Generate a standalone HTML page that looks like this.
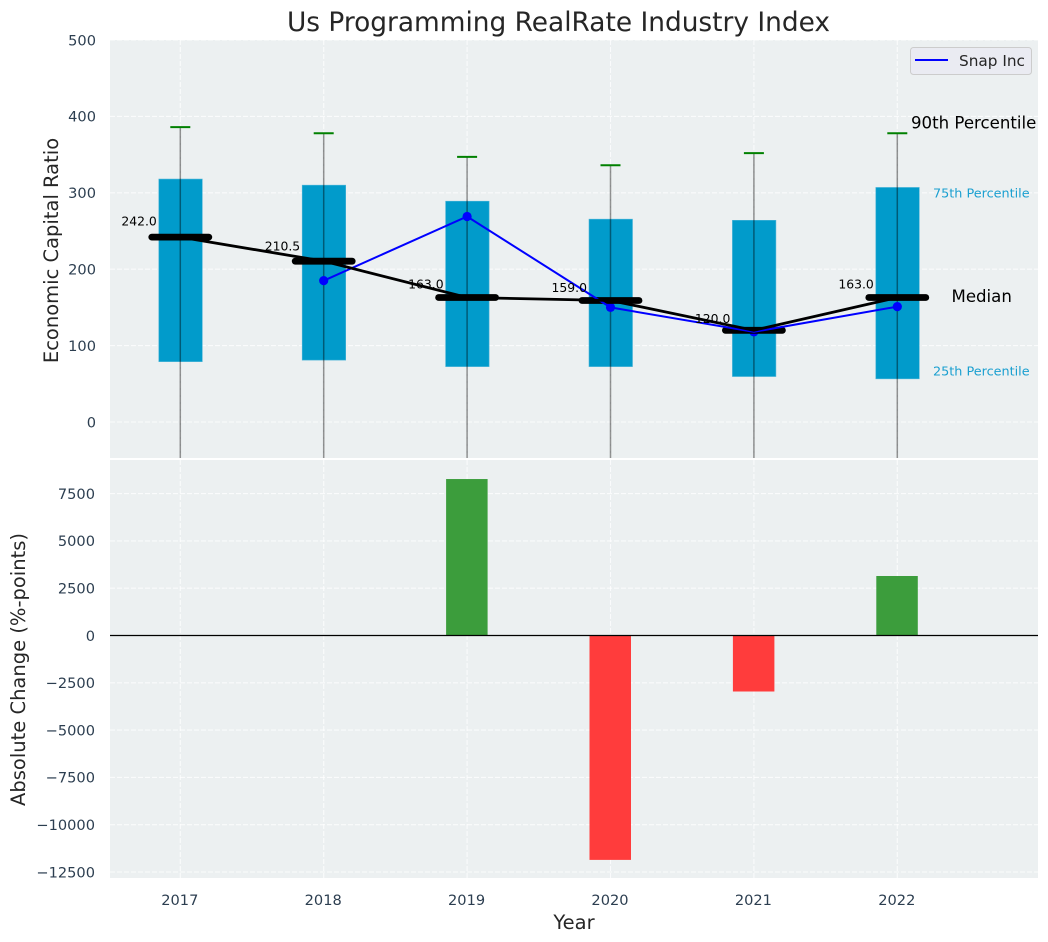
<!DOCTYPE html>
<html lang="en">
<head>
<meta charset="utf-8">
<title>Us Programming RealRate Industry Index</title>
<style>
html,body{margin:0;padding:0;background:#fff;width:1048px;height:942px;overflow:hidden}
svg{display:block}
text{font-family:"DejaVu Sans","Liberation Sans",sans-serif}
.tick{font-size:14.6px;fill:#2c3e50}
.axis{font-size:19.5px;fill:#262626}
.pct{font-size:12.8px;fill:#1a9fd0}
.big{font-size:16.6px;fill:#000}
</style>
</head>
<body>
<svg id="chart" xmlns="http://www.w3.org/2000/svg" width="1048" height="942" viewBox="0 0 1048 942">
  <defs>
    <clipPath id="clip-top"><rect x="110" y="40" width="928" height="418"/></clipPath>
    <clipPath id="clip-bottom"><rect x="110" y="460" width="928" height="418"/></clipPath>
  </defs>
  <text x="558.5" y="31" text-anchor="middle" style="font-size:26.4px;fill:#262626">Us Programming RealRate Industry Index</text>
  <rect x="110" y="40" width="928" height="418" fill="#ecf0f1"/>
  <rect x="110" y="460" width="928" height="418" fill="#ecf0f1"/>
  <g id="grid-layer"></g>
  <g id="bar-layer" clip-path="url(#clip-bottom)"></g>
  <g id="box-layer" clip-path="url(#clip-top)"></g>
  <g id="line-layer" clip-path="url(#clip-top)"></g>
  <g id="tick-layer"></g>
  <text class="axis" transform="translate(58,250.5) rotate(-90)" text-anchor="middle">Economic Capital Ratio</text>
  <text class="axis" transform="translate(25,669.5) rotate(-90)" text-anchor="middle">Absolute Change (%-points)</text>
  <text class="axis" x="574" y="929" text-anchor="middle">Year</text>
  <text class="big" x="911" y="128.5">90th Percentile</text>
  <text class="pct" x="933" y="197.5">75th Percentile</text>
  <text class="big" x="951.5" y="302">Median</text>
  <text class="pct" x="933" y="375.5">25th Percentile</text>
  <g>
    <rect x="910.5" y="47.5" width="121" height="27" rx="3" fill="#eaeaf2" fill-opacity="0.8" stroke="#cccccc"/>
    <line x1="915" y1="60" x2="948" y2="60" stroke="#0000ff" stroke-width="2"/>
    <text x="959" y="66" style="font-size:15.3px;fill:#262626">Snap Inc</text>
  </g>
</svg>
<script>
const years = [2017, 2018, 2019, 2020, 2021, 2022];
const p90 = [386, 378, 347, 336, 352, 378];
const p75 = [318, 310, 289, 265.5, 264, 307];
const medians = [242, 210.5, 163, 159, 120, 163];
const p25 = [79, 81, 72.5, 72.5, 59.5, 56.5];
const p10 = [-100, -100, -100, -100, -100, -100];
const snapInc = [null, 185, 269, 150, 118, 151];
const changes = [null, null, 8270, -11860, -2960, 3145];
const topTicks = [0, 100, 200, 300, 400, 500];
const bottomTicks = [7500, 5000, 2500, 0, -2500, -5000, -7500, -10000, -12500];

const NS = 'http://www.w3.org/2000/svg';
function xPos(year) { return 180.3 + (year - 2017) * 143.4; }
function yTop(value) { return 422 - value * 0.764; }
function yBottom(value) { return 635.5 - value * 0.01892; }
function make(parent, tag, attrs, text) {
  const el = document.createElementNS(NS, tag);
  for (const k in attrs) el.setAttribute(k, attrs[k]);
  if (text !== undefined) el.textContent = text;
  parent.appendChild(el);
  return el;
}
function fmt(v) { return String(v).replace('-', '\u2212'); }

const gridLayer = document.getElementById('grid-layer');
const barLayer = document.getElementById('bar-layer');
const boxLayer = document.getElementById('box-layer');
const lineLayer = document.getElementById('line-layer');
const tickLayer = document.getElementById('tick-layer');
const gridStyle = { stroke: '#ffffff', 'stroke-width': 1.1, 'stroke-dasharray': '5 2', 'stroke-opacity': 0.75 };

years.forEach(function (yr) {
  const x = xPos(yr);
  const g1 = make(gridLayer, 'line', Object.assign({ x1: x, x2: x, y1: 40, y2: 458 }, gridStyle));
  
  
  const g2 = make(gridLayer, 'line', Object.assign({ x1: x, x2: x, y1: 460, y2: 878 }, gridStyle));
  
  
  const t = make(tickLayer, 'text', { class: 'tick', x: x - 0.5, y: 905, 'text-anchor': 'middle' }, yr);
  
  
});
topTicks.forEach(function (v) {
  const y = yTop(v);
  const g = make(gridLayer, 'line', Object.assign({ x1: 110, x2: 1038, y1: y, y2: y }, gridStyle));
  
  
  const t = make(tickLayer, 'text', { class: 'tick', x: 96, y: y + 5.3, 'text-anchor': 'end' }, fmt(v));
  
  
});
bottomTicks.forEach(function (v) {
  const y = yBottom(v);
  const g = make(gridLayer, 'line', Object.assign({ x1: 110, x2: 1038, y1: y, y2: y }, gridStyle));
  
  
  const t = make(tickLayer, 'text', { class: 'tick', x: 95, y: y + 5.3, 'text-anchor': 'end' }, fmt(v));
  
  
});

changes.forEach(function (v, i) {
  if (v === null) return;
  const x = xPos(years[i]);
  const y0 = yBottom(0), y1 = yBottom(v);
  const bar = make(barLayer, 'rect', {
    x: x - 21, width: 41.5, y: Math.min(y0, y1), height: Math.abs(y1 - y0),
    fill: v > 0 ? '#3c9d3c' : '#ff3c3c'
  });
  
  
});
const zero = make(barLayer, 'line', { x1: 110, x2: 1038, y1: yBottom(0), y2: yBottom(0), stroke: '#000', 'stroke-width': 1.2 });



years.forEach(function (yr, i) {
  const x = xPos(yr);
  const box = make(boxLayer, 'rect', {
    x: x - 21.5, width: 43.5, y: yTop(p75[i]), height: yTop(p25[i]) - yTop(p75[i]),
    fill: '#019bcb', stroke: '#4db5d8', 'stroke-width': 0.6
  });
  
  
  const whisker = make(boxLayer, 'line', {
    x1: x, x2: x, y1: yTop(p90[i]), y2: yTop(p10[i]),
    stroke: '#000', 'stroke-opacity': 0.42, 'stroke-width': 1.5
  });
  
  
  const cap = make(boxLayer, 'line', {
    x1: x - 10, x2: x + 10, y1: yTop(p90[i]), y2: yTop(p90[i]),
    stroke: '#008000', 'stroke-width': 2
  });
  
  
});

function polyPoints(values) {
  const pts = [];
  values.forEach(function (v, i) {
    if (v !== null) pts.push(xPos(years[i]) + ',' + yTop(v));
  });
  return pts.join(' ');
}
snapInc.forEach(function (v, i) {
  if (v === null) return;
  const dot = make(lineLayer, 'circle', { cx: xPos(years[i]), cy: yTop(v), r: 4.6, fill: '#0000ff' });
  
  
});
medians.forEach(function (v, i) {
  const x = xPos(years[i]), y = yTop(v);
  const bar = make(lineLayer, 'line', { x1: x - 28.5, x2: x + 28.5, y1: y, y2: y, stroke: '#000', 'stroke-width': 6.8, 'stroke-linecap': 'round' });
  
  
});
const snapLine = make(lineLayer, 'polyline', { points: polyPoints(snapInc), fill: 'none', stroke: '#0000ff', 'stroke-width': 2 });


const medLine = make(lineLayer, 'polyline', { points: polyPoints(medians), fill: 'none', stroke: '#000', 'stroke-width': 2.8 });


medians.forEach(function (v, i) {
  const x = xPos(years[i]);
  const lbl = make(lineLayer, 'text', { x: x - 23.5, y: yTop(v * 1.05) - 2.5, 'text-anchor': 'end', style: 'font-size:12.4px;fill:#000' }, v.toFixed(1));
  
  
});
</script>
</body>
</html>
